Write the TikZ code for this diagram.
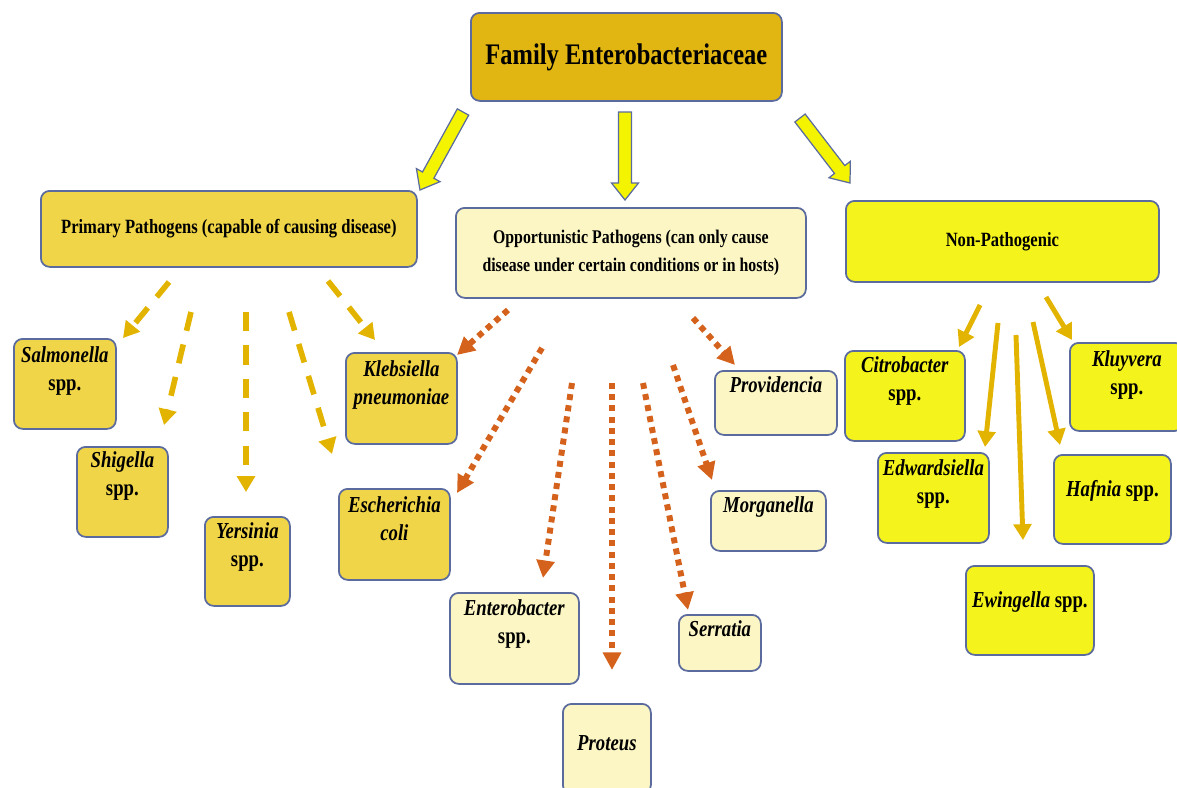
\documentclass[tikz,border=0pt]{standalone}
\usepackage{fontspec}
\setmainfont{Liberation Serif}[FakeStretch=0.82]
\usetikzlibrary{calc,arrows.meta}
\definecolor{topfill}{HTML}{E2B612}
\definecolor{primfill}{HTML}{F0D548}
\definecolor{oppfill}{HTML}{FBF6C4}
\definecolor{nonfill}{HTML}{F4F31C}
\definecolor{bordc}{HTML}{5B6B9E}
\definecolor{goldc}{HTML}{E2B400}
\definecolor{orangec}{HTML}{D5621C}
\definecolor{blockfill}{HTML}{F4F400}
\newdimen\pxu \pxu=0.02cm
\newcommand\bx[4]{\parbox[c][#2\pxu][t]{#1\pxu}{\centering\vspace*{#3\pxu}#4}}
\newcommand\bxc[3]{\parbox[c][#2\pxu][c]{#1\pxu}{\centering #3}}
\newcommand\spf{\fontsize{13}{15.9}\selectfont}
\newcommand\blockarr[3]{%
  \coordinate (#3c) at ($(#2)!0.34cm!(#1)$);
  \draw[blockarrow] ($(#1)!0.13cm!90:(#2)$) -- ($(#3c)!0.13cm!90:(#2)$) -- ($(#3c)!0.27cm!90:(#2)$) -- (#2)
     -- ($(#3c)!0.27cm!-90:(#2)$) -- ($(#3c)!0.13cm!-90:(#2)$) -- ($(#1)!0.13cm!-90:(#2)$) -- cycle;}
\begin{document}
\begin{tikzpicture}[x=0.02cm,y=-0.02cm,
  box/.style={draw=bordc, line width=1pt, rounded corners=5pt, inner sep=0pt, anchor=north west, font=\bfseries},
  blockarrow/.style={draw=bordc, line width=0.7pt, fill=blockfill, line join=miter},
  primarr/.style={draw=goldc, line width=3.2pt, dash pattern=on 11pt off 8pt, -{Triangle[length=9pt,width=10pt]}},
  opparr/.style={draw=orangec, line width=3.4pt, dash pattern=on 3.4pt off 3pt, -{Triangle[length=10pt,width=10pt]}},
  nonarr/.style={draw=goldc, line width=2.8pt, -{Triangle[length=9pt,width=10pt]}}]
\useasboundingbox (0,0) rectangle (1177,788);

% main boxes
\node[box,fill=topfill] (fam) at (470,12) {\bxc{311}{88}{\fontsize{17}{20}\selectfont Family Enterobacteriaceae}};
\node[box,fill=primfill] (prim) at (40,190) {\bxc{376}{76}{\fontsize{11.5}{14}\selectfont Primary Pathogens (capable of causing disease)}};
\node[box,fill=oppfill] (opp) at (455,207) {\bxc{350}{90}{\fontsize{11}{16.2}\selectfont Opportunistic Pathogens (can only cause\\ disease under certain conditions or in hosts)}};
\node[box,fill=nonfill] (non) at (845,200) {\bxc{313}{81}{\fontsize{11.5}{14}\selectfont Non-Pathogenic}};

% primary species
\node[box,fill=primfill] (salm) at (13,338) {\bx{102}{90}{8}{\spf\textit{Salmonella}\\spp.}};
\node[box,fill=primfill] (shig) at (76,446) {\bx{91}{90}{5}{\spf\textit{Shigella}\\spp.}};
\node[box,fill=primfill] (yers) at (204,516) {\bx{85}{89}{6}{\spf\textit{Yersinia}\\spp.}};
\node[box,fill=primfill] (kleb) at (345,352) {\bx{111}{91}{8}{\spf\textit{Klebsiella}\\\textit{pneumoniae}}};
\node[box,fill=primfill] (ecol) at (338,488) {\bx{111}{91}{8}{\spf\textit{Escherichia}\\\textit{coli}}};

% opportunistic species
\node[box,fill=oppfill] (prov) at (714,370) {\bx{122}{64}{6}{\spf\textit{Providencia}}};
\node[box,fill=oppfill] (morg) at (710,490) {\bx{115}{60}{6}{\spf\textit{Morganella}}};
\node[box,fill=oppfill] (ente) at (449,592) {\bx{129}{91}{7}{\spf\textit{Enterobacter}\\spp.}};
\node[box,fill=oppfill] (serr) at (678,614) {\bx{82}{56}{6}{\spf\textit{Serratia}}};
\node[box,fill=oppfill] (prot) at (562,703) {\bx{88}{90}{32}{\spf\textit{Proteus}}};

% non-pathogenic species
\node[box,fill=nonfill] (citr) at (844,350) {\bx{120}{90}{6}{\spf\textit{Citrobacter}\\spp.}};
\node[box,fill=nonfill] (kluy) at (1069,342) {\bx{114}{88}{8}{\spf\textit{Kluyvera}\\spp.}};
\node[box,fill=nonfill] (edwa) at (877,452) {\bx{111}{90}{7}{\spf\textit{Edwardsiella}\\spp.}};
\node[box,fill=nonfill] (hafn) at (1053,454) {\bx{117}{89}{26}{\spf\textit{Hafnia} spp.}};
\node[box,fill=nonfill] (ewin) at (965,565) {\bx{128}{89}{26}{\spf\textit{Ewingella} spp.}};

% block arrows from the family box
\coordinate (fa1) at (463,112); \coordinate (fa1e) at (420,190);
\coordinate (fa2) at (625,112); \coordinate (fa2e) at (625,200);
\coordinate (fa3) at (800,118); \coordinate (fa3e) at (850,183);
\blockarr{fa1}{fa1e}{ba}
\blockarr{fa2}{fa2e}{bb}
\blockarr{fa3}{fa3e}{bc}

% primary pathogen arrows
\coordinate (ps1) at (169,282); \coordinate (pe1) at (123,338);
\coordinate (ps2) at (191,312); \coordinate (pe2) at (164,425);
\coordinate (ps3) at (246,312); \coordinate (pe3) at (246,492);
\coordinate (ps4) at (289,312); \coordinate (pe4) at (332,454);
\coordinate (ps5) at (328,281); \coordinate (pe5) at (375,340);
\draw[primarr] (ps1) -- (pe1);
\draw[primarr] (ps2) -- (pe2);
\draw[primarr] (ps3) -- (pe3);
\draw[primarr] (ps4) -- (pe4);
\draw[primarr] (ps5) -- (pe5);

% opportunistic arrows
\coordinate (os1) at (508,310); \coordinate (oe1) at (457,355);
\coordinate (os2) at (542,348); \coordinate (oe2) at (457,493);
\coordinate (os3) at (572,383); \coordinate (oe3) at (543,578);
\coordinate (os4) at (612,383); \coordinate (oe4) at (612,670);
\coordinate (os5) at (643,383); \coordinate (oe5) at (688,610);
\coordinate (os6) at (673,365); \coordinate (oe6) at (712,480);
\coordinate (os7) at (693,318); \coordinate (oe7) at (735,365);
\draw[opparr] (os1) -- (oe1);
\draw[opparr] (os2) -- (oe2);
\draw[opparr] (os3) -- (oe3);
\draw[opparr] (os4) -- (oe4);
\draw[opparr] (os5) -- (oe5);
\draw[opparr] (os6) -- (oe6);
\draw[opparr] (os7) -- (oe7);

% non-pathogenic arrows
\coordinate (ns1) at (980,305); \coordinate (ne1) at (959,347);
\coordinate (ns2) at (998,323); \coordinate (ne2) at (985,447);
\coordinate (ns3) at (1016,335); \coordinate (ne3) at (1023,540);
\coordinate (ns4) at (1033,322); \coordinate (ne4) at (1060,445);
\coordinate (ns5) at (1046,297); \coordinate (ne5) at (1072,340);
\draw[nonarr] (ns1) -- (ne1);
\draw[nonarr] (ns2) -- (ne2);
\draw[nonarr] (ns3) -- (ne3);
\draw[nonarr] (ns4) -- (ne4);
\draw[nonarr] (ns5) -- (ne5);
\end{tikzpicture}
\end{document}
